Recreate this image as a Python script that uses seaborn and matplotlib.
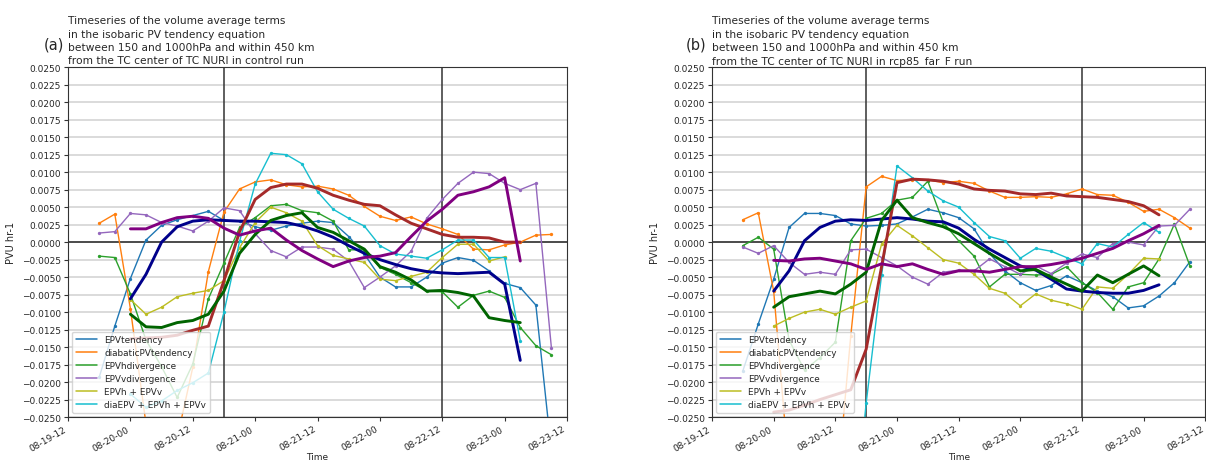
import numpy as np
import pandas as pd
import matplotlib
matplotlib.use("Agg")
import matplotlib.pyplot as plt
import matplotlib.dates as mdates
from matplotlib.ticker import MultipleLocator, FuncFormatter
from matplotlib.lines import Line2D
import seaborn as sns

sns.set_style("ticks")
plt.rcParams["font.family"] = ["DejaVu Sans"]

nan = np.nan

# 3-hourly analysis times (raw terms) and times of the smoothed curves
times = pd.date_range("2008-08-19 18:00", "2008-08-23 09:00", freq="3h")
times_s = pd.date_range("2008-08-20 00:00", "2008-08-23 03:00", freq="3h")

labels = ["EPVtendency", "diabaticPVtendency", "EPVhdivergence",
          "EPVvdivergence", "EPVh + EPVv", "diaEPV + EPVh + EPVv"]

# ---------------- (a) control run ----------------
a_tend = [-0.0193, -0.0120, -0.0052, 0.0003, 0.0024, 0.0032, 0.0038, 0.0044, 0.0031, 0.0030,
          0.0022, 0.0017, 0.0023, 0.0027, 0.0030, 0.0028, 0.0008, -0.0017, -0.0050, -0.0064,
          -0.0064, -0.0050, -0.0030, -0.0022, -0.0026, -0.0041, -0.0059, -0.0065, -0.0090, -0.0300]
a_diab = [0.0027, 0.0040, -0.0095, -0.0260, -0.0320, -0.0280, -0.0179, -0.0042, 0.0043, 0.0076,
          0.0086, 0.0089, 0.0082, 0.0079, 0.0080, 0.0076, 0.0067, 0.0051, 0.0037, 0.0031,
          0.0036, 0.0026, 0.0019, 0.0011, -0.0010, -0.0011, -0.0004, 0.0000, 0.0010, 0.0011]
a_hdiv = [-0.0020, -0.0022, -0.0074, -0.0140, -0.0178, -0.0222, -0.0174, -0.0081, -0.0030, 0.0021,
          0.0035, 0.0052, 0.0054, 0.0045, 0.0042, 0.0030, -0.0011, -0.0011, -0.0036, -0.0046,
          -0.0058, -0.0070, -0.0071, -0.0093, -0.0076, -0.0070, -0.0079, -0.0122, -0.0148, -0.0161]
a_vdiv = [0.0013, 0.0015, 0.0041, 0.0039, 0.0028, 0.0023, 0.0016, 0.0030, 0.0049, 0.0045,
          0.0012, -0.0012, -0.0021, -0.0007, -0.0007, -0.0010, -0.0027, -0.0065, -0.0050, -0.0034,
          -0.0013, 0.0034, 0.0061, 0.0084, 0.0100, 0.0098, 0.0084, 0.0075, 0.0084, -0.0152]
a_hv = [nan, nan, -0.0082, -0.0103, -0.0093, -0.0078, -0.0073, -0.0069, -0.0055, -0.0008,
        0.0028, 0.0050, 0.0042, 0.0030, -0.0005, -0.0019, -0.0024, -0.0029, -0.0053, -0.0055,
        -0.0049, -0.0043, -0.0022, -0.0003, -0.0003, -0.0027, -0.0021, nan, nan, nan]
a_all = [nan, nan, -0.0217, -0.0236, -0.0227, -0.0212, -0.0201, -0.0187, -0.0100, 0.0001,
         0.0083, 0.0127, 0.0125, 0.0112, 0.0072, 0.0047, 0.0034, 0.0023, -0.0005, -0.0017,
         -0.0020, -0.0023, -0.0011, 0.0003, 0.0003, -0.0022, -0.0022, -0.0141, nan, nan]

a_tend_s = [-0.0081, -0.0046, 0.0000, 0.0022, 0.0030, 0.0032, 0.0031, 0.0030, 0.0030, 0.0029,
            0.0028, 0.0023, 0.0016, 0.0007, -0.0005, -0.0016, -0.0025, -0.0032, -0.0038, -0.0042,
            -0.0044, -0.0045, -0.0044, -0.0043, -0.0060, -0.0169]
a_diab_s = [-0.0138, -0.0137, -0.0136, -0.0133, -0.0126, -0.0120, -0.0055, 0.0015, 0.0061, 0.0078,
            0.0083, 0.0083, 0.0077, 0.0067, 0.0060, 0.0054, 0.0052, 0.0039, 0.0027, 0.0019,
            0.0011, 0.0007, 0.0007, 0.0006, 0.0000, 0.0000]
a_hdiv_s = [-0.0103, -0.0121, -0.0122, -0.0115, -0.0112, -0.0103, -0.0070, -0.0016, 0.0011, 0.0031,
            0.0038, 0.0042, 0.0021, 0.0014, 0.0002, -0.0010, -0.0035, -0.0043, -0.0054, -0.0070,
            -0.0069, -0.0072, -0.0077, -0.0108, -0.0112, -0.0115]
a_vdiv_s = [0.0019, 0.0019, 0.0028, 0.0035, 0.0037, 0.0034, 0.0020, 0.0010, 0.0016, 0.0020,
            0.0003, -0.0012, -0.0024, -0.0035, -0.0027, -0.0022, -0.0020, -0.0015, 0.0008, 0.0030,
            0.0047, 0.0067, 0.0072, 0.0079, 0.0092, -0.0027]

# ---------------- (b) rcp85_far_F run ----------------
b_tend = [-0.0184, -0.0117, -0.0053, 0.0021, 0.0041, 0.0041, 0.0038, 0.0026, 0.0023, 0.0024,
          0.0026, 0.0036, 0.0047, 0.0042, 0.0035, 0.0019, -0.0016, -0.0041, -0.0058, -0.0069,
          -0.0062, -0.0048, -0.0058, -0.0070, -0.0078, -0.0094, -0.0091, -0.0077, -0.0058, -0.0028]
b_diab = [0.0032, 0.0042, -0.0070, -0.0330, -0.0400, -0.0400, -0.0380, -0.0134, 0.0079, 0.0094,
          0.0088, 0.0089, 0.0089, 0.0085, 0.0087, 0.0084, 0.0073, 0.0064, 0.0064, 0.0065,
          0.0064, 0.0069, 0.0076, 0.0068, 0.0067, 0.0057, 0.0044, 0.0047, 0.0035, 0.0020]
b_hdiv = [-0.0005, 0.0007, -0.0010, -0.0140, -0.0183, -0.0165, -0.0143, 0.0002, 0.0034, 0.0041,
          0.0060, 0.0064, 0.0087, 0.0028, 0.0002, -0.0020, -0.0064, -0.0046, -0.0046, -0.0047,
          -0.0046, -0.0035, -0.0058, -0.0072, -0.0096, -0.0064, -0.0058, -0.0024, 0.0026, -0.0034]
b_vdiv = [-0.0007, -0.0016, -0.0005, -0.0029, -0.0046, -0.0043, -0.0046, -0.0011, -0.0010, -0.0022,
          -0.0034, -0.0050, -0.0060, -0.0043, -0.0040, -0.0041, -0.0024, -0.0035, -0.0046, -0.0034,
          -0.0045, -0.0030, -0.0017, -0.0022, -0.0002, 0.0000, -0.0004, 0.0023, 0.0024, 0.0047]
b_hv = [nan, nan, -0.0120, -0.0109, -0.0100, -0.0096, -0.0103, -0.0093, -0.0084, -0.0003,
        0.0024, 0.0009, -0.0008, -0.0025, -0.0030, -0.0046, -0.0066, -0.0073, -0.0091, -0.0074,
        -0.0083, -0.0088, -0.0096, -0.0064, -0.0066, -0.0046, -0.0023, -0.0024, nan, nan]
b_all = [nan, nan, -0.0450, -0.0450, -0.0450, -0.0450, -0.0450, -0.0450, -0.0230, -0.0047,
         0.0109, 0.0092, 0.0073, 0.0059, 0.0050, 0.0028, 0.0008, 0.0002, -0.0023, -0.0009,
         -0.0013, -0.0022, -0.0031, -0.0002, -0.0007, 0.0011, 0.0028, 0.0014, nan, nan]

b_tend_s = [-0.0070, -0.0041, 0.0002, 0.0021, 0.0030, 0.0032, 0.0031, 0.0033, 0.0035, 0.0033,
            0.0030, 0.0029, 0.0020, 0.0004, -0.0010, -0.0022, -0.0034, -0.0040, -0.0053, -0.0067,
            -0.0070, -0.0072, -0.0073, -0.0073, -0.0069, -0.0061]
b_diab_s = [-0.0243, -0.0240, -0.0233, -0.0225, -0.0218, -0.0211, -0.0153, -0.0035, 0.0085, 0.0090,
            0.0089, 0.0087, 0.0083, 0.0076, 0.0074, 0.0073, 0.0069, 0.0068, 0.0070, 0.0066,
            0.0065, 0.0064, 0.0061, 0.0058, 0.0052, 0.0039]
b_hdiv_s = [-0.0093, -0.0078, -0.0074, -0.0070, -0.0074, -0.0060, -0.0043, 0.0031, 0.0060, 0.0035,
            0.0028, 0.0022, 0.0012, -0.0002, -0.0016, -0.0029, -0.0041, -0.0039, -0.0050, -0.0060,
            -0.0070, -0.0047, -0.0058, -0.0046, -0.0034, -0.0048]
b_vdiv_s = [-0.0026, -0.0027, -0.0024, -0.0023, -0.0027, -0.0031, -0.0039, -0.0031, -0.0035, -0.0031,
            -0.0039, -0.0046, -0.0041, -0.0041, -0.0043, -0.0039, -0.0035, -0.0035, -0.0032, -0.0028,
            -0.0023, -0.0016, -0.0009, 0.0002, 0.0012, 0.0024]

thin_colors = ["#1f77b4", "#ff7f0e", "#2ca02c", "#9467bd", "#bcbd22", "#17becf"]
thick_colors = ["#00008b", "#a52a2a", "#006400", "#800080"]

titles = [
    "Timeseries of the volume average terms\nin the isobaric PV tendency equation\n"
    "between 150 and 1000hPa and within 450 km\nfrom the TC center of TC NURI in control run",
    "Timeseries of the volume average terms\nin the isobaric PV tendency equation\n"
    "between 150 and 1000hPa and within 450 km\nfrom the TC center of TC NURI in rcp85_far_F run",
]
panel_tags = ["(a)", "(b)"]

fig = plt.figure(figsize=(12.06, 4.64), dpi=100)
ax_a = fig.add_axes([0.0564, 0.099, 0.4138, 0.754])
ax_b = fig.add_axes([0.5904, 0.099, 0.4090, 0.754])

panels = [
    (ax_a, [a_tend, a_diab, a_hdiv, a_vdiv, a_hv, a_all], [a_tend_s, a_diab_s, a_hdiv_s, a_vdiv_s]),
    (ax_b, [b_tend, b_diab, b_hdiv, b_vdiv, b_hv, b_all], [b_tend_s, b_diab_s, b_hdiv_s, b_vdiv_s]),
]

minus_fmt = FuncFormatter(lambda v, p: f"{v:.4f}".replace("-", "\u2212"))

for i, (ax, thin, thick) in enumerate(panels):
    ax.yaxis.grid(True, color="#dadada", lw=1.4, zorder=0)
    ax.set_axisbelow(True)
    for vals, c in zip(thin, thin_colors):
        sns.lineplot(x=times, y=vals, ax=ax, color=c, lw=1.0, marker="o",
                     markersize=2.4, markeredgewidth=0, legend=False, zorder=3)
    for vals, c in zip(thick, thick_colors):
        sns.lineplot(x=times_s, y=vals, ax=ax, color=c, lw=2.1, legend=False, zorder=4)

    ax.axhline(0, color="#333333", lw=1.2, zorder=2)
    ax.axvline(pd.Timestamp("2008-08-20 18:00"), color="#333333", lw=1.1, zorder=2)
    ax.axvline(pd.Timestamp("2008-08-22 12:00"), color="#333333", lw=1.1, zorder=2)

    ax.set_xlim(pd.Timestamp("2008-08-19 12:00"), pd.Timestamp("2008-08-23 12:00"))
    ax.set_ylim(-0.025, 0.025)
    ax.yaxis.set_major_locator(MultipleLocator(0.0025))
    ax.yaxis.set_major_formatter(minus_fmt)
    ax.xaxis.set_major_locator(mdates.HourLocator(byhour=[0, 12]))
    ax.xaxis.set_major_formatter(mdates.DateFormatter("%m-%d-%H"))
    ax.tick_params(axis="both", labelsize=6.5, length=3, width=0.8, pad=2, color="#333333")
    for lab in ax.get_xticklabels():
        lab.set_rotation(30)
        lab.set_ha("right")
    for s in ax.spines.values():
        s.set_color("#333333")
        s.set_linewidth(0.8)

    ax.set_xlabel("Time", fontsize=6.5, labelpad=0)
    ax.set_ylabel("PVU hr-1", fontsize=7, labelpad=4)
    ax.set_title(titles[i], loc="left", fontsize=7.7, pad=3, linespacing=1.4)

    handles = [Line2D([], [], color=c, lw=1.1) for c in thin_colors]
    leg = ax.legend(handles, labels, loc="lower left", fontsize=6.4, frameon=True,
                    framealpha=0.8, handlelength=2.4, borderaxespad=0.5,
                    labelspacing=0.45, borderpad=0.4)
    leg.get_frame().set_edgecolor("#cccccc")
    leg.set_zorder(10)

fig.text(0.036, 0.903, panel_tags[0], fontsize=10.5, va="center", ha="left")
fig.text(0.569, 0.903, panel_tags[1], fontsize=10.5, va="center", ha="left")

fig.savefig("out.png", dpi=100)
